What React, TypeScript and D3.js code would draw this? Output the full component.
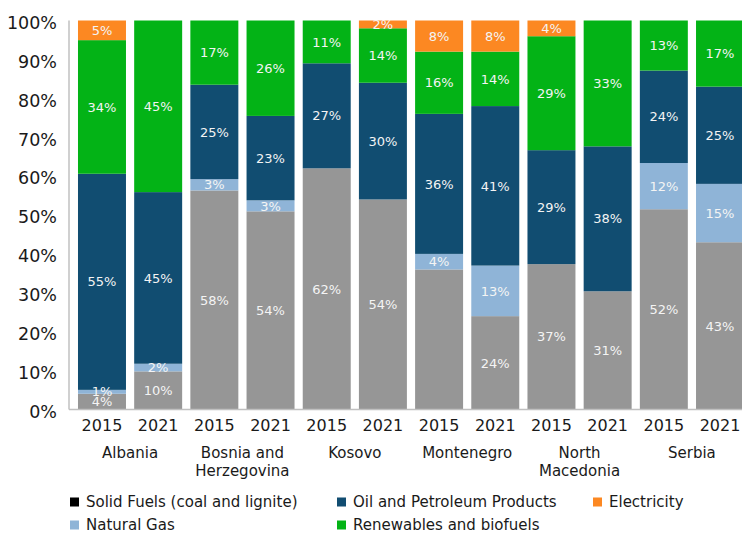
import React from "react";
import * as d3 from "d3";

const countries = ["Albania", "Albania", "Bosnia and\nHerzegovina", "Bosnia and\nHerzegovina", "Kosovo", "Kosovo", "Montenegro", "Montenegro", "North\nMacedonia", "North\nMacedonia", "Serbia", "Serbia"];
const years = ["2015", "2021", "2015", "2021", "2015", "2021", "2015", "2021", "2015", "2021", "2015", "2021"];
const countryNames = ["Albania", "Bosnia and\nHerzegovina", "Kosovo", "Montenegro", "North\nMacedonia", "Serbia"];

const solidFuels = [4, 10, 58, 54, 62, 54, 36, 24, 37, 31, 52, 43];
const naturalGas = [1, 2, 3, 3, 0, 0, 4, 13, 0, 0, 12, 15];
const oilPetroleum = [55, 45, 25, 23, 27, 30, 36, 41, 29, 38, 24, 25];
const renewables = [34, 45, 17, 26, 11, 14, 16, 14, 29, 33, 13, 17];
const electricity = [5, 0, 0, 0, 0, 2, 8, 8, 4, 0, 0, 0];
// labels not shown in the reference (series key, bar index)
const hiddenLabels = [["solid", 6]];

const seriesKeys = ["solid", "gas", "oil", "renew", "elec"];
const seriesNames = ["Solid Fuels (coal and lignite)", "Natural Gas", "Oil and Petroleum Products", "Renewables and biofuels", "Electricity"];
const seriesValues = [solidFuels, naturalGas, oilPetroleum, renewables, electricity];
const barColors = ["#969696", "#8FB4D7", "#114D71", "#03B316", "#FC8822"];
const legendColors = ["#000000", "#8FB4D7", "#114D71", "#03B316", "#FC8822"];
const yTicks = [0, 0.1, 0.2, 0.3, 0.4, 0.5, 0.6, 0.7, 0.8, 0.9, 1.0];

const FONT = "'DejaVu Sans', sans-serif";

export default function App() {
  const W = 742, H = 533;
  const left = 69, top = 20.5, bottom = 409.5;
  const ids = years.map((_, i) => String(i));
  const x = d3.scaleBand<string>().domain(ids).range([left, 753]).paddingInner(0.146).paddingOuter(0.16);
  const y = d3.scaleLinear().domain([0, 1]).range([bottom, top]);

  const rows = ids.map((id, i) => {
    const r: any = { id };
    seriesKeys.forEach((k, j) => (r[k] = seriesValues[j][i]));
    return r;
  });
  const stack = d3.stack<any>().keys(seriesKeys).offset(d3.stackOffsetExpand);
  const stacked = stack(rows);

  const isHidden = (k: string, i: number) => hiddenLabels.some(([hk, hi]) => hk === k && hi === i);

  const legendItems = [
    { i: 0, x: 70, y: 502 },
    { i: 2, x: 337, y: 502 },
    { i: 4, x: 593, y: 502 },
    { i: 1, x: 70, y: 525 },
    { i: 3, x: 337, y: 525 },
  ];

  return (
    <svg width={W} height={H} style={{ position: "absolute", left: 0, top: 0, background: "#fff" }} fontFamily={FONT}>
      {stacked.map((layer, li) => (
        <g key={layer.key}>
          {layer.map((d, i) => {
            const y0 = y(d[0]), y1 = y(d[1]);
            const h = y0 - y1;
            if (h <= 0.01) return null;
            return <rect key={i} x={x(ids[i])} y={y1} width={x.bandwidth()} height={h} fill={barColors[li]} />;
          })}
        </g>
      ))}
      {stacked.map((layer, li) => (
        <g key={"l" + layer.key}>
          {layer.map((d, i) => {
            const v = seriesValues[li][i];
            if (!v || isHidden(layer.key, i)) return null;
            const cy = (y(d[0]) + y(d[1])) / 2;
            return (
              <text key={i} x={(x(ids[i]) as number) + x.bandwidth() / 2} y={cy} dy="0.36em" textAnchor="middle" fontSize={13} fill="#f4f4f4">
                {v + "%"}
              </text>
            );
          })}
        </g>
      ))}
      <line x1={left} x2={W} y1={bottom} y2={bottom} stroke="#c0c0c0" strokeWidth={1.5} />
      <line x1={left} x2={left} y1={top} y2={bottom} stroke="#c0c0c0" strokeWidth={1.5} />
      {yTicks.map((t) => (
        <text key={t} x={57} y={y(t) + 2} dy="0.36em" textAnchor="end" fontSize={17.5} fill="#1a1a1a">
          {Math.round(t * 100) + "%"}
        </text>
      ))}
      {ids.map((id, i) => (
        <text key={id} x={(x(id) as number) + x.bandwidth() / 2} y={425} dy="0.36em" textAnchor="middle" fontSize={16} fill="#1a1a1a">
          {years[i]}
        </text>
      ))}
      {countryNames.map((c, ci) => {
        const i0 = countries.indexOf(c);
        const cx = ((x(ids[i0]) as number) + (x(ids[i0 + 1]) as number) + x.bandwidth()) / 2;
        return (
          <text key={c} x={cx} y={458} textAnchor="middle" fontSize={15} fill="#1a1a1a">
            {c.split("\n").map((line, li) => (
              <tspan key={li} x={cx} dy={li === 0 ? 0 : 17.5}>
                {line}
              </tspan>
            ))}
          </text>
        );
      })}
      {legendItems.map((it) => (
        <g key={it.i}>
          <rect x={it.x} y={it.y - 4.5} width={9} height={9} fill={legendColors[it.i]} />
          <text x={it.x + 16} y={it.y} dy="0.36em" fontSize={15} fill="#1a1a1a">
            {seriesNames[it.i]}
          </text>
        </g>
      ))}
    </svg>
  );
}
